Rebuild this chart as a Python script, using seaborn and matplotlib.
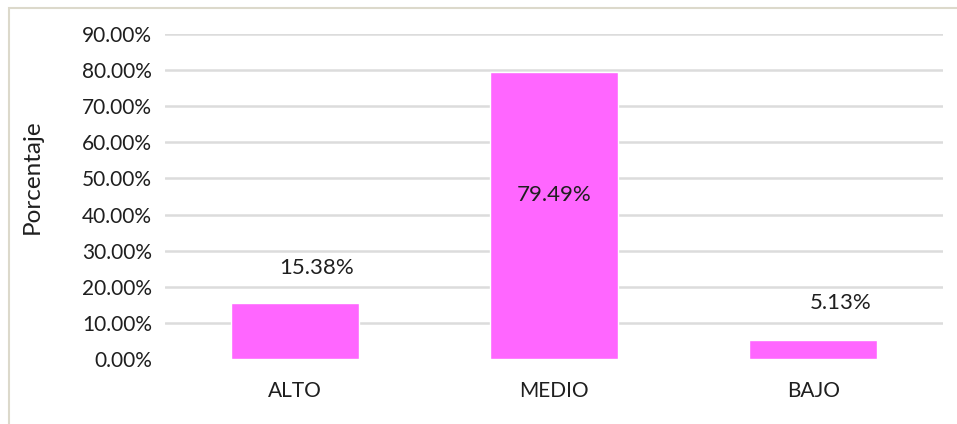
import matplotlib
matplotlib.use("Agg")
import matplotlib.pyplot as plt
import matplotlib.ticker as mticker
from matplotlib.patches import Rectangle
import pandas as pd
import seaborn as sns

categorias = ["ALTO", "MEDIO", "BAJO"]
porcentajes = [15.38, 79.49, 5.13]
etiquetas = ["15.38%", "79.49%", "5.13%"]

sns.set_theme(style="white")
plt.rcParams["font.family"] = ["Lato", "DejaVu Sans"]

df = pd.DataFrame({"categoria": categorias, "porcentaje": porcentajes})

TXT = "#1F1F1F"

fig = plt.figure(figsize=(9.57, 4.24), dpi=100)
fig.patch.set_facecolor("white")
# outer chart frame
fig.add_artist(Rectangle((9 / 957, -0.01), 1.0, 1 - 8 / 424 + 0.01,
                         transform=fig.transFigure, fill=False,
                         edgecolor="#DCD9CB", linewidth=1.5))

ax = fig.add_axes([165 / 957, 1 - 359 / 424, (943 - 165) / 957, (359 - 34) / 424])

sns.barplot(data=df, x="categoria", y="porcentaje", color="#FF66FF",
            saturation=1, width=0.494, ax=ax)

ax.set_ylim(0, 90)
ax.set_yticks(range(0, 91, 10))
ax.yaxis.set_major_formatter(mticker.FuncFormatter(lambda v, _: f"{v:.2f}%"))
ax.grid(axis="y", color="#DCDCDC", linewidth=1.8)
ax.set_axisbelow(True)
ax.yaxis.get_gridlines()[0].set_visible(False)
for s in ax.spines.values():
    s.set_visible(False)

ax.tick_params(axis="y", length=0, pad=9.5, labelsize=15, labelcolor=TXT)
ax.tick_params(axis="x", length=0, pad=16, labelsize=15, labelcolor=TXT)
ax.set_xlabel("")
ax.set_ylabel("Porcentaje", fontsize=17.5, color=TXT)
ax.yaxis.set_label_coords(-0.157, 0.56)

# value labels: above the short bars, inside the tall one
offsets = [(22, 35), (0, -123), (27, 37)]
for i, (v, txt) in enumerate(zip(porcentajes, etiquetas)):
    dx, dy = offsets[i]
    ax.annotate(txt, (i, v), xytext=(dx, dy), textcoords="offset pixels",
                ha="center", va="center", fontsize=16, color=TXT)

fig.savefig("out.png", dpi=100, facecolor="white")
